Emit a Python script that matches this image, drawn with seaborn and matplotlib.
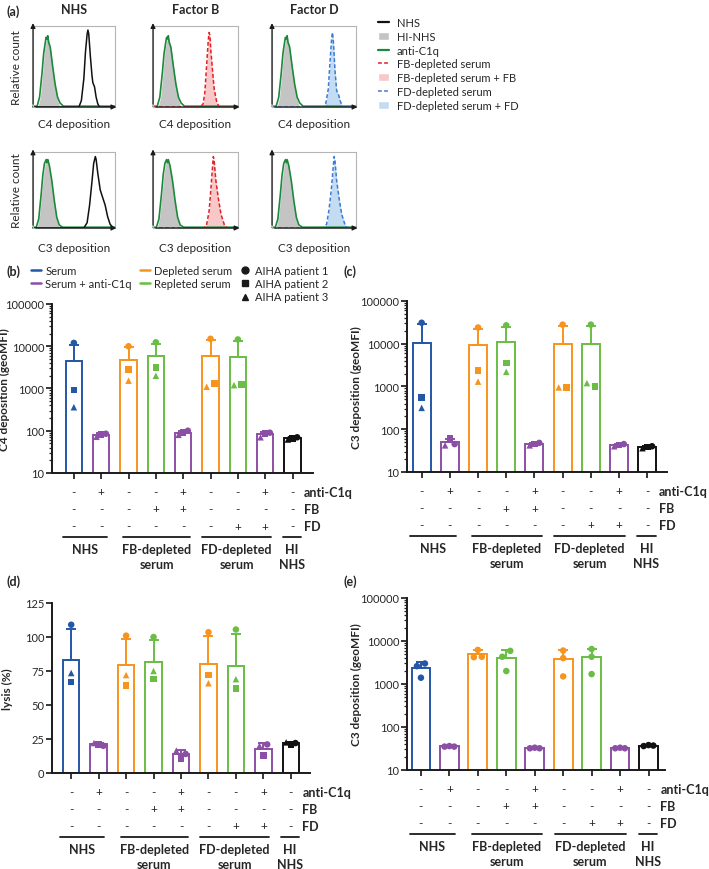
import numpy as np
import pandas as pd
import matplotlib
matplotlib.use("Agg")
import matplotlib.pyplot as plt
import matplotlib.transforms as mtransforms
from matplotlib.lines import Line2D
from matplotlib.patches import Patch
from matplotlib.ticker import LogLocator, NullFormatter, FuncFormatter
import seaborn as sns

sns.set_theme(style="ticks")
plt.rcParams['font.family'] = ['Lato', 'DejaVu Sans']

# ---- (a) flow cytometry histograms (x = % of plotted range, y = relative count)
hi_c4_x = [0, 6, 9, 12, 14, 16, 18, 19, 21, 24, 27, 30, 33, 100]
hi_c4_y = [0, 0, 0.12, 0.45, 0.7, 0.82, 0.86, 0.84, 0.74, 0.5, 0.25, 0.08, 0, 0]
c1q_c4_x = [0, 5, 8, 11, 13, 15, 16, 17, 18, 19, 21, 24, 27, 30, 33, 37, 100]
c1q_c4_y = [0.01, 0.01, 0.12, 0.42, 0.66, 0.8, 0.86, 0.84, 0.88, 0.8, 0.74, 0.5, 0.28, 0.12, 0.05, 0.01, 0.01]
nhs_c4_x = [0, 56, 59, 62, 64, 66, 67, 68, 70, 72, 73, 75, 77, 79, 81, 100]
nhs_c4_y = [0, 0, 0.08, 0.35, 0.68, 0.9, 0.95, 0.9, 0.62, 0.38, 0.3, 0.25, 0.12, 0.04, 0, 0]
fb_c4_x = [0, 56, 59, 61, 63, 65, 66, 67, 68, 70, 72, 75, 78, 100]
fb_c4_y = [0, 0, 0.04, 0.18, 0.5, 0.82, 0.92, 0.88, 0.7, 0.45, 0.22, 0.06, 0, 0]
fd_c4_x = [0, 61, 64, 67, 69, 71, 72, 73, 75, 77, 79, 81, 84, 100]
fd_c4_y = [0, 0, 0.04, 0.22, 0.55, 0.85, 0.92, 0.82, 0.45, 0.2, 0.16, 0.08, 0, 0]

hi_c3_x = [0, 5, 8, 11, 13, 15, 17, 19, 22, 25, 28, 31, 34, 100]
hi_c3_y = [0, 0, 0.15, 0.5, 0.72, 0.86, 0.9, 0.85, 0.65, 0.38, 0.15, 0.03, 0, 0]
c1q_c3_x = [0, 4, 7, 10, 12, 14, 16, 17, 18, 20, 23, 26, 29, 32, 36, 100]
c1q_c3_y = [0.01, 0.01, 0.12, 0.45, 0.7, 0.85, 0.9, 0.86, 0.9, 0.82, 0.62, 0.36, 0.14, 0.04, 0.01, 0.01]
nhs_c3_x = [0, 62, 66, 69, 72, 74, 76, 77, 79, 82, 85, 88, 91, 94, 98, 100]
nhs_c3_y = [0, 0, 0.07, 0.3, 0.62, 0.85, 0.94, 0.9, 0.72, 0.5, 0.4, 0.3, 0.15, 0.05, 0, 0]
fb_c3_x = [0, 60, 63, 66, 68, 70, 71, 72, 74, 77, 80, 84, 87, 100]
fb_c3_y = [0, 0, 0.04, 0.22, 0.5, 0.8, 0.94, 0.88, 0.62, 0.38, 0.18, 0.04, 0, 0]
fd_c3_x = [0, 61, 65, 68, 71, 73, 74, 75, 77, 80, 83, 87, 90, 100]
fd_c3_y = [0, 0, 0.05, 0.25, 0.55, 0.82, 0.94, 0.88, 0.62, 0.38, 0.18, 0.04, 0, 0]

hist_titles = ["NHS", "Factor B", "Factor D"]
hist_xlabels = ["C4 deposition", "C3 deposition"]

# ---- (b)-(e) bar charts
conditions = ["NHS", "NHS + anti-C1q", "FB-dep", "FB-dep + FB", "FB-dep + FB + anti-C1q",
              "FD-dep", "FD-dep + FD", "FD-dep + FD + anti-C1q", "HI NHS"]
anti_c1q_row = ["-", "+", "-", "-", "+", "-", "-", "+", "-"]
fb_row = ["-", "-", "-", "+", "+", "-", "-", "-", "-"]
fd_row = ["-", "-", "-", "-", "-", "-", "+", "+", "-"]
group_names = ["NHS", "FB-depleted\nserum", "FD-depleted\nserum", "HI\nNHS"]
group_spans = [(-0.4, 1.2), (1.8, 4.25), (4.7, 7.2), (7.65, 8.3)]

# C4 deposition (geoMFI), AIHA patients 1-3
c4_p1 = [12000, 85, 10000, 12400, 100, 15000, 14500, 90, 70]
c4_p2 = [920, 82, 2850, 3100, 90, 1300, 1250, 85, 65]
c4_p3 = [360, 72, 1530, 2000, 80, 1100, 1200, 70, 62]
# C3 deposition (geoMFI), AIHA patients 1-3
c3_p1 = [31000, 45, 24000, 27000, 48, 28000, 28000, 45, 40]
c3_p2 = [560, 62, 2400, 3500, 45, 950, 1000, 43, 38]
c3_p3 = [316, 42, 1300, 2200, 42, 950, 1200, 40, 36]
# lysis (%), AIHA patients 1-3
lysis_p1 = [109, 20, 101, 100, 14, 103.5, 105.5, 21, 22]
lysis_p2 = [67, 21, 64.5, 69, 10.5, 72, 62, 13, 21]
lysis_p3 = [73.5, 22, 72, 75, 16.5, 66, 69, 20, 22.5]
# C3 deposition (geoMFI), panel (e)
e_d1 = [3000, 35, 6200, 5900, 32, 6000, 6500, 32, 37]
e_d2 = [2600, 36, 4300, 4300, 33, 4000, 4300, 33, 38]
e_d3 = [1400, 35, 4200, 2000, 32, 1500, 1700, 32, 36]

BLUE, PURPLE, ORANGE, GREEN, BLACK = '#2457a6', '#8c4fa6', '#f7941d', '#6abd45', '#111111'
bar_colors = [BLUE, PURPLE, ORANGE, GREEN, PURPLE, ORANGE, GREEN, PURPLE, BLACK]

W, H = 709, 870
fig = plt.figure(figsize=(W / 100, H / 100), dpi=100)


def px_rect(x0, y0, x1, y1):
    return [x0 / W, 1 - y1 / H, (x1 - x0) / W, (y1 - y0) / H]


# ---------------- (a) histograms
hist_cols = [(33, 115), (153, 238), (272, 356)]
hist_rows = [(27, 108), (153, 229)]
row_data = [
    (hi_c4_x, hi_c4_y, c1q_c4_x, c1q_c4_y,
     [(nhs_c4_x, nhs_c4_y), (fb_c4_x, fb_c4_y), (fd_c4_x, fd_c4_y)]),
    (hi_c3_x, hi_c3_y, c1q_c3_x, c1q_c3_y,
     [(nhs_c3_x, nhs_c3_y), (fb_c3_x, fb_c3_y), (fd_c3_x, fd_c3_y)]),
]
test_styles = [
    dict(line='#111111', ls='-', fill=None),
    dict(line='#e31e24', ls=(0, (2.5, 1.5)), fill='#f8c8c8'),
    dict(line='#3a7bd5', ls=(0, (2.5, 1.5)), fill='#c3dcf2'),
]
for r, (y0, y1) in enumerate(hist_rows):
    hx, hy, gx, gy, tests = row_data[r]
    for c, (x0, x1) in enumerate(hist_cols):
        ax = fig.add_axes(px_rect(x0, y0, x1, y1))
        tx, ty = tests[c]
        st = test_styles[c]
        ax.fill_between(hx, hy, color='#c4c4c4', lw=0)
        if st['fill']:
            ax.fill_between(tx, ty, color=st['fill'], lw=0)
        sns.lineplot(x=gx, y=gy, ax=ax, color='#1a8a3a', lw=1.2, sort=False, clip_on=False)
        sns.lineplot(x=tx, y=ty, ax=ax, color=st['line'], lw=1.1, linestyle=st['ls'],
                     sort=False, clip_on=False)
        ax.set_xlim(0, 100)
        ax.set_ylim(0, 1)
        ax.set_xticks([])
        ax.set_yticks([])
        for sp in ax.spines.values():
            sp.set_color('#b5b5b5')
            sp.set_linewidth(0.8)
        ax.annotate('', xy=(0, 1.07), xytext=(0, 0), xycoords='axes fraction',
                    arrowprops=dict(arrowstyle='-|>', color='k', lw=0.9, mutation_scale=7))
        ax.annotate('', xy=(1.05, 0), xytext=(0, 0), xycoords='axes fraction',
                    arrowprops=dict(arrowstyle='-|>', color='k', lw=0.9, mutation_scale=7))
        ax.set_xlabel(hist_xlabels[r], fontsize=8.5, labelpad=8 if r == 0 else 10)
        if c == 0:
            ax.set_ylabel("Relative count", fontsize=8.5, labelpad=8)
        if r == 0:
            ax.set_title(hist_titles[c], fontsize=9, fontweight='bold', pad=9)

legend_a = [
    Line2D([], [], color='#111111', lw=1.6, label='NHS'),
    Patch(facecolor='#c4c4c4', label='HI-NHS'),
    Line2D([], [], color='#1a8a3a', lw=1.6, label='anti-C1q'),
    Line2D([], [], color='#e31e24', lw=1.1, ls=(0, (2.5, 1.5)), label='FB-depleted serum'),
    Patch(facecolor='#f8c8c8', label='FB-depleted serum + FB'),
    Line2D([], [], color='#3a7bd5', lw=1.1, ls=(0, (2.5, 1.5)), label='FD-depleted serum'),
    Patch(facecolor='#c3dcf2', label='FD-depleted serum + FD'),
]
fig.legend(handles=legend_a, loc='upper left', bbox_to_anchor=(378 / W, 1 - 18 / H),
           frameon=False, fontsize=8, handlelength=1.0, handleheight=0.7,
           handletextpad=0.7, labelspacing=0.25, borderpad=0, borderaxespad=0)


# ---------------- (b)-(e) bar charts
def spread(vals, log, thr):
    v = np.log10(vals) if log else np.asarray(vals, float)
    offs = np.zeros(len(v))
    close = [j for j in range(len(v)) if any(abs(v[j] - v[k]) < thr for k in range(len(v)) if k != j)]
    if len(close) == 2:
        for o, j in zip([-0.14, 0.14], sorted(close, reverse=True)):
            offs[j] = o
    elif len(close) == 3:
        for o, j in zip([-0.17, 0, 0.17], sorted(close, reverse=True)):
            offs[j] = o
    return offs


def below(ax, px):
    return mtransforms.offset_copy(ax.get_xaxis_transform(), fig=fig, x=0, y=-px, units='dots')


def bar_panel(rect, p1, p2, p3, markers, ylabel, log, width, xlim, label_x):
    ax = fig.add_axes(rect)
    df = pd.DataFrame({'cond': conditions * 3, 'value': p1 + p2 + p3,
                       'patient': [1] * 9 + [2] * 9 + [3] * 9})
    sns.barplot(data=df, x='cond', y='value', hue='cond', order=conditions,
                hue_order=conditions, palette=bar_colors, saturation=1, fill=False,
                errorbar=None, width=width, linewidth=1.4, legend=False, ax=ax)
    stats = df.groupby('cond', sort=False)['value'].agg(['mean', 'std']).reindex(conditions)
    for i, cond in enumerate(conditions):
        ax.errorbar(i, stats.loc[cond, 'mean'], yerr=[[0], [stats.loc[cond, 'std']]],
                    fmt='none', ecolor=bar_colors[i], elinewidth=1.4, capsize=3.5,
                    capthick=1.4, zorder=2)
    pts = np.array([p1, p2, p3], float)
    offs = np.zeros_like(pts)
    for i in range(9):
        offs[:, i] = spread(pts[:, i], log, 0.15 if log else 5)
    for k in range(3):
        ax.scatter(np.arange(9) + offs[k], pts[k], marker=markers[k], c=bar_colors,
                   s=22, linewidths=0, zorder=3, clip_on=False)
    if log:
        ax.set_yscale('log')
        ax.set_ylim(10, 100000)
        ax.set_yticks([10, 100, 1000, 10000, 100000])
        ax.yaxis.set_major_formatter(FuncFormatter(lambda v, p: f"{int(round(v))}"))
        ax.yaxis.set_minor_locator(LogLocator(base=10, subs=range(2, 10)))
        ax.yaxis.set_minor_formatter(NullFormatter())
    else:
        ax.set_ylim(0, 125)
        ax.set_yticks([0, 25, 50, 75, 100, 125])
    ax.set_xlim(*xlim)
    ax.set_xticks(range(9))
    ax.set_xticklabels([])
    ax.set_xlabel('')
    ax.set_ylabel(ylabel, fontsize=8.5, fontweight='bold')
    ax.yaxis.set_label_coords(label_x, 0.5)
    ax.tick_params(axis='both', which='major', length=4, width=1.3, labelsize=8, pad=1.5)
    ax.tick_params(axis='y', which='minor', length=2.5, width=0.9)
    sns.despine(ax=ax)
    for sp in ('left', 'bottom'):
        ax.spines[sp].set_linewidth(1.4)
        ax.spines[sp].set_color('k')
    # condition table under the axis
    for row, name, dy in [(anti_c1q_row, 'anti-C1q', 19), (fb_row, 'FB', 36), (fd_row, 'FD', 53)]:
        for i, s in enumerate(row):
            ax.text(i, 0, s, transform=below(ax, dy), ha='center', va='center', fontsize=8.5)
        ax.text(8.42, 0, name, transform=below(ax, dy), ha='left', va='center',
                fontsize=9, fontweight='bold')
    for (a, b), name in zip(group_spans, group_names):
        ax.plot([a, b], [0, 0], transform=below(ax, 64), color='k', lw=1.3, clip_on=False)
        ax.text((a + b) / 2, 0, name, transform=below(ax, 70), ha='center', va='top',
                fontsize=9, fontweight='bold', linespacing=1.3)
    return ax


pm = ['o', 's', '^']
bar_panel(px_rect(52, 305, 313, 474), c4_p1, c4_p2, c4_p3, pm,
          "C4 deposition (geoMFI)", True, 0.6, (-0.8, 8.75), -0.16)
bar_panel(px_rect(407, 302, 667, 473), c3_p1, c3_p2, c3_p3, pm,
          "C3 deposition (geoMFI)", True, 0.64, (-0.52, 8.7), -0.175)
bar_panel(px_rect(52, 604, 310, 774), lysis_p1, lysis_p2, lysis_p3, pm,
          "lysis (%)", False, 0.6, (-0.7, 8.7), -0.15)
bar_panel(px_rect(407, 599, 665, 771), e_d1, e_d2, e_d3, ['o', 'o', 'o'],
          "C3 deposition (geoMFI)", True, 0.66, (-0.49, 8.58), -0.175)

blank = Line2D([], [], alpha=0)
legend_b = [
    Line2D([], [], color=BLUE, lw=1.8), Line2D([], [], color=PURPLE, lw=1.8), blank,
    Line2D([], [], color=ORANGE, lw=1.8), Line2D([], [], color=GREEN, lw=1.8), blank,
    Line2D([], [], color='k', marker='o', ls='', ms=5),
    Line2D([], [], color='k', marker='s', ls='', ms=5),
    Line2D([], [], color='k', marker='^', ls='', ms=5),
]
labels_b = ["Serum", "Serum + anti-C1q", "", "Depleted serum", "Repleted serum", "",
            "AIHA patient 1", "AIHA patient 2", "AIHA patient 3"]
fig.legend(handles=legend_b, labels=labels_b, ncol=3, loc='upper left',
           bbox_to_anchor=(31 / W, 1 - 266 / H), frameon=False, fontsize=8,
           handlelength=0.9, handletextpad=0.4, columnspacing=0.7, labelspacing=0.2,
           borderpad=0, borderaxespad=0)

for lab, x, y in [("(a)", 6, 12), ("(b)", 6, 272), ("(c)", 344, 272),
                  ("(d)", 6, 582), ("(e)", 344, 582)]:
    fig.text(x / W, 1 - y / H, lab, fontsize=9, fontweight='bold', va='center', ha='left')

fig.savefig("out.png", dpi=100)
